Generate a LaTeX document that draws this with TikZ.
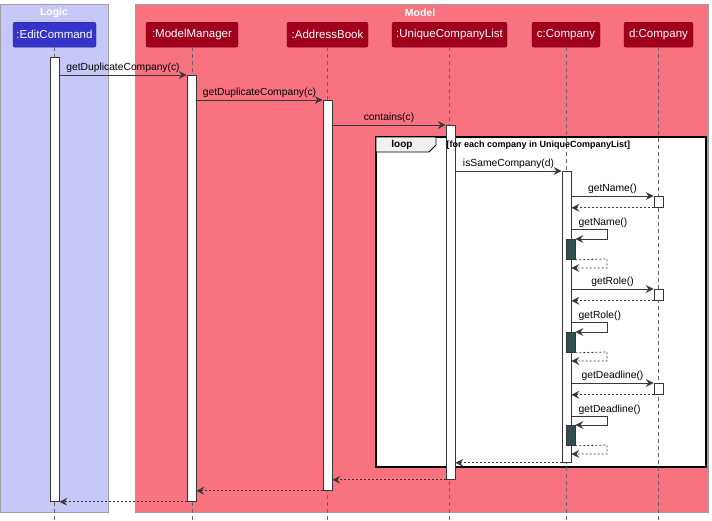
\documentclass[tikz,border=0pt]{standalone}
\usepackage{fontspec}
\setmainfont{Liberation Sans}
\usetikzlibrary{arrows.meta,calc}
\definecolor{logicbg}{RGB}{200,200,248}
\definecolor{modelbg}{RGB}{248,114,128}
\definecolor{logicbox}{RGB}{52,52,200}
\definecolor{modelbox}{RGB}{160,0,26}
\definecolor{selfact}{RGB}{47,79,79}
\definecolor{ink}{RGB}{56,56,56}
\begin{document}
\begin{tikzpicture}[x=1pt,y=-1pt,
  groupbox/.style={draw=gray!75,line width=0.8pt},
  grouptitle/.style={text=white,font=\bfseries\fontsize{10.5}{12}\selectfont},
  partbox/.style={rounded corners=2pt,minimum height=25,inner sep=0pt,
    text=white,font=\fontsize{11.5}{13}\selectfont,anchor=north},
  logicpart/.style={partbox,fill=logicbox,draw=logicbox!70!black},
  modelpart/.style={partbox,fill=modelbox,draw=modelbox!80!black},
  life/.style={draw=gray!80!black,dash pattern=on 4pt off 3pt,line width=0.6pt},
  actbox/.style={draw=ink,fill=white,line width=0.8pt,minimum width=9,inner sep=0pt,anchor=north},
  selfbox/.style={actbox,fill=selfact},
  msg/.style={draw=ink,line width=0.8pt,-{Stealth[length=8pt,width=8pt,inset=3pt]}},
  ret/.style={msg,dash pattern=on 2pt off 2pt},
  lbl/.style={font=\fontsize{10.3}{12}\selectfont,text=black,inner sep=1.5pt},
]
\useasboundingbox (0,0) rectangle (712,520);

% package boxes
\draw[groupbox,fill=logicbg] (0,4) rectangle (108,512);
\draw[groupbox,fill=modelbg] (135,4) rectangle (708,512);
\node[grouptitle] (tLogic) at (54,13) {Logic};
\node[grouptitle] (tModel) at (420,13) {Model};

% loop fragment
\draw[black,line width=1.5pt,fill=white] (376,137) rectangle (706,467);
\draw[black,line width=0.9pt,fill=gray!12] (376,137) -- (436,137) -- (436,145) -- (429,152) -- (376,152) -- cycle;
\node[font=\bfseries\fontsize{10}{12}\selectfont,inner sep=0pt] (loopkw) at (402,145) {loop};

% participants
\node[logicpart,minimum width=83] (pEC) at (54.5,22) {:EditCommand};
\node[modelpart,minimum width=92] (pMM) at (192,22) {:ModelManager};
\node[modelpart,minimum width=81] (pAB) at (327.5,22) {:AddressBook};
\node[modelpart,minimum width=115] (pUCL) at (449.5,22) {:UniqueCompanyList};
\node[modelpart,minimum width=68] (pC) at (566,22) {c:Company};
\node[modelpart,minimum width=69] (pD) at (658.5,22) {d:Company};

% lifelines
\coordinate (endY) at (0,520);
\foreach \p in {pEC,pMM,pAB,pUCL,pC,pD}
  \draw[life] (\p.south) -- (\p.south |- endY);

% activations
\node[actbox,minimum height=444] (aEC) at (54.5,57) {};
\node[actbox,minimum height=426] (aMM) at (191.5,75) {};
\node[actbox,minimum height=390] (aAB) at (327.5,100) {};
\node[actbox,minimum height=354] (aUCL) at (450.5,125) {};
\node[actbox,minimum height=291] (aC) at (566.5,171) {};
\node[actbox,minimum height=11] (dN) at (658.5,196) {};
\node[actbox,minimum height=11] (dR) at (658.5,289) {};
\node[actbox,minimum height=11] (dD) at (658.5,383) {};
\node[selfbox,minimum height=20] (sN) at (570.5,239) {};
\node[selfbox,minimum height=20] (sR) at (570.5,332) {};
\node[selfbox,minimum height=20] (sD) at (570.5,425) {};

% loop guard, written over the activation bar
\node[font=\bfseries\fontsize{9}{11}\selectfont,anchor=west,inner sep=0pt] (guard) at (446.5,145.5) {[for each company in UniqueCompanyList]};

% calls down the chain
\draw[msg] (aEC.east |- 0,75) -- node[lbl,above] {getDuplicateCompany(c)} (aMM.west |- 0,75);
\draw[msg] (aMM.east |- 0,100) -- node[lbl,above] {getDuplicateCompany(c)} (aAB.west |- 0,100);
\draw[msg] (aAB.east |- 0,125) -- node[lbl,above] {contains(c)} (aUCL.west |- 0,125);
\draw[msg] (aUCL.east |- 0,171) -- node[lbl,above] {isSameCompany(d)} (aC.west |- 0,171);

% getName
\draw[msg] (aC.east |- 0,196) -- node[lbl,above] {getName()} (dN.west |- 0,196);
\draw[ret] (dN.south west) -- (aC.east |- dN.south west);
\draw[msg] (aC.east |- 0,229) -- (607,229) -- (607,239) -- (sN.north east);
\node[lbl,anchor=south west] (lN) at (577,229) {getName()};
\draw[ret] (sN.south east) -- (607,259) -- (607,268) -- (aC.east |- 0,268);

% getRole
\draw[msg] (aC.east |- 0,289) -- node[lbl,above] {getRole()} (dR.west |- 0,289);
\draw[ret] (dR.south west) -- (aC.east |- dR.south west);
\draw[msg] (aC.east |- 0,322) -- (607,322) -- (607,332) -- (sR.north east);
\node[lbl,anchor=south west] (lR) at (577,322) {getRole()};
\draw[ret] (sR.south east) -- (607,352) -- (607,361) -- (aC.east |- 0,361);

% getDeadline
\draw[msg] (aC.east |- 0,383) -- node[lbl,above] {getDeadline()} (dD.west |- 0,383);
\draw[ret] (dD.south west) -- (aC.east |- dD.south west);
\draw[msg] (aC.east |- 0,416) -- (607,416) -- (607,425) -- (sD.north east);
\node[lbl,anchor=south west] (lD) at (577,416) {getDeadline()};
\draw[ret] (sD.south east) -- (607,445) -- (607,454) -- (aC.east |- 0,454);

% returns back up the chain
\draw[ret] (aC.south west) -- (aUCL.east |- aC.south west);
\draw[ret] (aUCL.south west) -- (aAB.east |- aUCL.south west);
\draw[ret] (aAB.south west) -- (aMM.east |- aAB.south west);
\draw[ret] (aMM.south west) -- (aEC.east |- aMM.south west);
\end{tikzpicture}
\end{document}
